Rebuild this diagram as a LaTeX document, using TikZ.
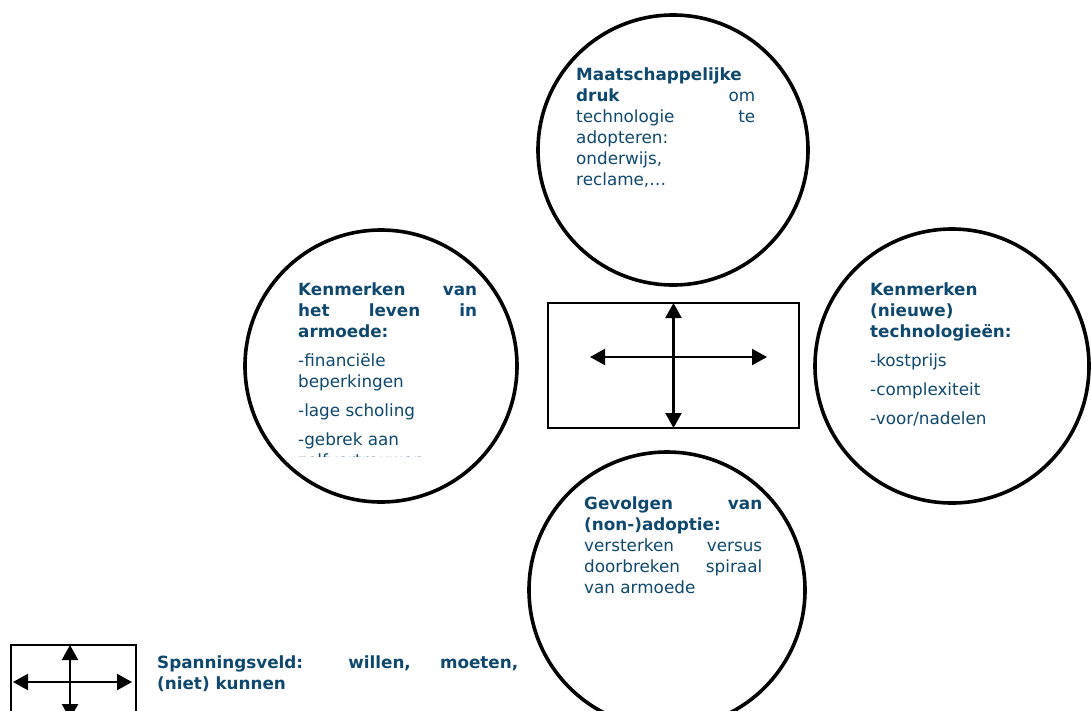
\documentclass[tikz,border=0pt]{standalone}
\usepackage{fontspec}
\setmainfont{DejaVu Sans}
\usetikzlibrary{arrows.meta}
\definecolor{txtblue}{RGB}{15,72,110}
\newcommand\jline[2]{\makebox[#1][s]{#2}}
\begin{document}
\begin{tikzpicture}[x=1pt,y=-1pt,
  ring/.style={circle,draw=black,line width=3.6pt,inner sep=0pt,minimum size=#1},
  frame/.style={rectangle,draw=black,line width=1.6pt,inner sep=0pt},
  txt/.style={align=left,inner sep=0pt,text=txtblue,anchor=base west,
    font=\fontsize{16.8}{21}\selectfont},
  dbl/.style={line width=2.2pt,{Triangle[length=15pt,width=16pt]}-{Triangle[length=15pt,width=16pt]}}
]
\useasboundingbox (0,0) rectangle (1091,710);
\clip (0,0) rectangle (1091,710);

% circles
\node[ring=270pt] (ctop) at (673,150) {};
\node[ring=272pt] (cleft) at (381,366) {};
\node[ring=274pt] (cright) at (952,366) {};
\node[ring=276pt] (cbot) at (667,590) {};

% circle texts (anchor = baseline of last line)
\node[txt] (ttop) at (576,185) {\textbf{Maatschappelijke}\\
  \jline{179pt}{\textbf{druk} om}\\
  \jline{179pt}{technologie te}\\
  adopteren:\\
  onderwijs,\\
  reclame,…};

\begin{scope}
\clip (280,270) rectangle (500,456);
\node[txt] (tleft) at (298,466) {\jline{179pt}{\textbf{Kenmerken van}}\\
  \jline{179pt}{\textbf{het leven in}}\\
  \textbf{armoede:}\\[8pt]
  -financiële\\
  beperkingen\\[8pt]
  -lage scholing\\[8pt]
  -gebrek aan\\
  zelfvertrouwen};
\end{scope}

\node[txt] (tright) at (870,424) {\textbf{Kenmerken}\\
  \textbf{(nieuwe)}\\
  \textbf{technologieën:}\\[8pt]
  -kostprijs\\[8pt]
  -complexiteit\\[8pt]
  -voor/nadelen};

\node[txt] (tbot) at (584,593) {\jline{178pt}{\textbf{Gevolgen van}}\\
  \textbf{(non-)adoptie:}\\
  \jline{178pt}{versterken versus}\\
  \jline{178pt}{doorbreken spiraal}\\
  van armoede};

% central tension box
\node[frame,minimum width=251pt,minimum height=125pt] (cbox) at (673.5,365.5) {};
\coordinate (cl) at (590,357);
\coordinate (cr) at (767,357);
\coordinate (ct) at (673.5,303);
\coordinate (cb) at (673.5,428);
\draw[dbl] (cl) -- (cr);
\draw[dbl] (ct) -- (cb);

% legend
\node[frame,minimum width=125pt,minimum height=74pt] (lbox) at (73.5,682) {};
\coordinate (ll) at (13,682);
\coordinate (lr) at (132,682);
\coordinate (lt) at (70,645);
\coordinate (lb) at (70,719);
\draw[dbl] (ll) -- (lr);
\draw[dbl] (lt) -- (lb);

\node[txt] (tleg) at (157,689) {\jline{361pt}{\textbf{Spanningsveld: willen, moeten,}}\\
  \textbf{(niet) kunnen}};
\end{tikzpicture}
\end{document}
